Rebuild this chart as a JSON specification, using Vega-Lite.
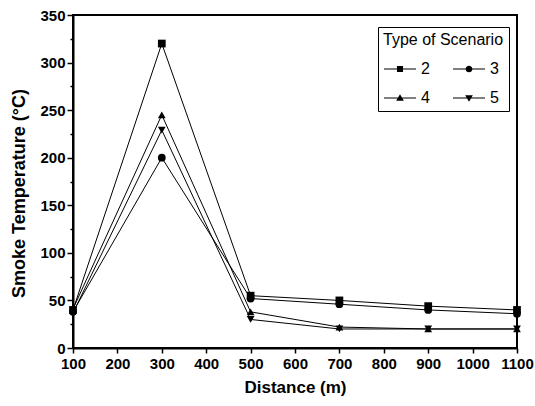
{
  "$schema": "https://vega.github.io/schema/vega-lite/v6.json",
  "width": 444,
  "height": 333,
  "autosize": {"type": "none"},
  "padding": {"left": 73, "top": 15, "right": 18, "bottom": 58},
  "background": "white",
  "config": {
    "font": "Liberation Sans",
    "view": {"stroke": "black", "strokeWidth": 2},
    "axis": {
      "domainColor": "black", "domainWidth": 2, "tickColor": "black", "tickWidth": 1.5,
      "labelColor": "black", "labelFont": "Liberation Sans", "labelFontWeight": "bold", "labelFontSize": 15,
      "titleFont": "Liberation Sans", "titleFontWeight": "bold", "titleColor": "black",
      "grid": false
    }
  },
  "data": {"values": [
    {"d": 100, "t": 40, "s": "2"}, {"d": 300, "t": 320, "s": "2"}, {"d": 500, "t": 55, "s": "2"}, {"d": 700, "t": 50, "s": "2"}, {"d": 900, "t": 44, "s": "2"}, {"d": 1100, "t": 40, "s": "2"},
    {"d": 100, "t": 38, "s": "3"}, {"d": 300, "t": 200, "s": "3"}, {"d": 500, "t": 52, "s": "3"}, {"d": 700, "t": 46, "s": "3"}, {"d": 900, "t": 40, "s": "3"}, {"d": 1100, "t": 36, "s": "3"},
    {"d": 100, "t": 41, "s": "4"}, {"d": 300, "t": 245, "s": "4"}, {"d": 500, "t": 38, "s": "4"}, {"d": 700, "t": 22, "s": "4"}, {"d": 900, "t": 20, "s": "4"}, {"d": 1100, "t": 20, "s": "4"},
    {"d": 100, "t": 37, "s": "5"}, {"d": 300, "t": 229, "s": "5"}, {"d": 500, "t": 30, "s": "5"}, {"d": 700, "t": 20, "s": "5"}, {"d": 900, "t": 20, "s": "5"}, {"d": 1100, "t": 20, "s": "5"}
  ]},
  "encoding": {
    "x": {"field": "d", "type": "quantitative", "title": "Distance (m)",
      "scale": {"domain": [100, 1100], "nice": false},
      "axis": {"values": [100,200,300,400,500,600,700,800,900,1000,1100], "format": "d", "tickSize": 5, "labelPadding": 3, "titlePadding": 8, "titleFontSize": 17, "labelFlush": false}},
    "y": {"field": "t", "type": "quantitative", "title": "Smoke Temperature (°C)",
      "scale": {"domain": [0, 350], "nice": false},
      "axis": {"values": [0,25,50,75,100,125,150,175,200,225,250,275,300,325,350],
        "labelExpr": "datum.value % 50 == 0 ? datum.label : ''",
        "tickSize": {"condition": {"test": "datum.value % 50 == 0", "value": 6}, "value": 3},
        "labelPadding": 2, "titleFontSize": 18, "titleY": 178, "titleX": -45}}
  },
  "layer": [
    {"mark": {"type": "line", "color": "black", "strokeWidth": 1},
     "encoding": {"detail": {"field": "s", "type": "nominal"}}},
    {"mark": {"type": "point", "filled": true, "color": "black", "opacity": 1, "size": 60},
     "encoding": {"shape": {"field": "s", "type": "nominal",
       "scale": {"domain": ["2","3","4","5"], "range": ["square","circle","triangle-up","triangle-down"]},
       "legend": null}}},
    {"mark": {"type": "point", "filled": true, "color": "black", "opacity": 0, "size": 60},
     "encoding": {"shape": {"field": "s", "type": "nominal",
       "scale": {"domain": ["2","3","4","5"], "range": ["M-1,-0.035H1V0.035H-1ZM-0.19,-0.19H0.19V0.19H-0.19Z", "M-1,-0.035H1V0.035H-1ZM0.21,0A0.21,0.21 0 1,1 -0.21,0A0.21,0.21 0 1,1 0.21,0Z", "M-1,-0.035H1V0.035H-1ZM0,-0.24L0.24,0.17H-0.24Z", "M-1,-0.035H1V0.035H-1ZM0,0.24L-0.24,-0.17H0.24Z"]},
       "legend": {"title": "Type of Scenario", "orient": "none", "legendX": 305, "legendY": 12,
         "direction": "horizontal", "columns": 2, "columnPadding": 20, "rowPadding": 4,
         "strokeColor": "black", "padding": 5, "fillColor": "white",
         "titleFontWeight": "normal", "titleFontSize": 16, "titleColor": "black", "titleFont": "Liberation Sans", "titlePadding": 4,
         "labelFontSize": 16, "labelColor": "black", "labelFont": "Liberation Sans", "labelOffset": 4,
         "symbolSize": 1024, "symbolOpacity": 1, "symbolFillColor": "black"}}}}
  ],
  "resolve": {"scale": {"shape": "independent"}}
}
